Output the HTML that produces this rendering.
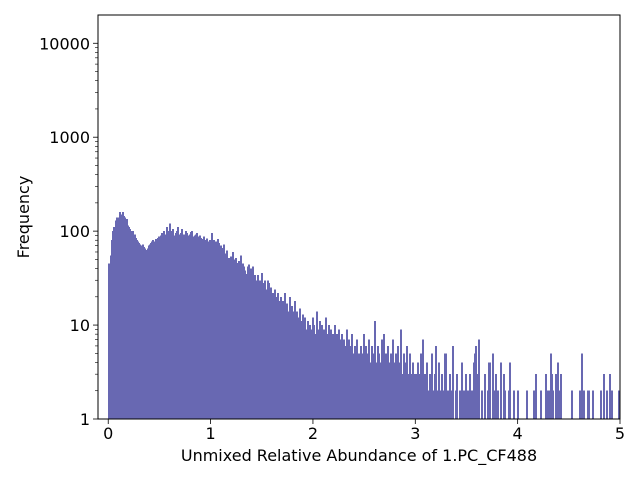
<!DOCTYPE html>
<html><head><meta charset="utf-8"><style>
body{margin:0;background:#fff}
svg{display:block;font-family:"DejaVu Sans","Liberation Sans",sans-serif}
</style></head><body>
<svg id="chart" width="640" height="480" viewBox="0 0 640 480" xmlns="http://www.w3.org/2000/svg">
<rect width="640" height="480" fill="#fff"/>
<g id="bars" shape-rendering="crispEdges"></g>
<g id="axes"></g>
<text x="359" y="461" font-size="16" text-anchor="middle">Unmixed Relative Abundance of 1.PC_CF488</text>
<text x="29" y="217" font-size="16" text-anchor="middle" transform="rotate(-90 29 217)">Frequency</text>
</svg>
<script>
const binStart = 0;
const binWidth = 0.01;
const counts = [
45,33,55,80,100,110,105,130,140,135,140,160,150,150,160,145,140,130,135,115,110,105,100,95,100,90,92,85,80,78,75,72,70,72,68,65,63,62,65,70,72,75,78,80,75,78,82,80,85,88,
85,90,95,85,100,88,92,110,95,100,120,95,100,105,90,88,95,100,110,92,90,95,105,88,92,100,95,90,85,92,98,100,88,85,90,92,95,85,88,90,85,82,80,88,75,80,84,78,76,80,
75,95,70,80,72,78,68,82,75,65,70,66,60,72,55,58,62,52,50,54,48,60,45,50,52,44,46,48,42,55,40,45,42,38,25,35,42,44,38,40,36,42,28,34,30,26,34,28,30,24,
36,28,26,30,22,24,30,28,20,25,22,18,24,20,16,22,18,14,20,16,18,12,22,15,17,14,10,20,12,16,14,11,18,10,14,12,9,15,11,8,13,10,12,7,9,11,8,10,6,9,
12,10,8,14,9,7,11,6,10,8,9,7,12,8,6,10,7,9,5,8,7,10,6,8,5,9,7,6,8,4,7,5,6,9,5,7,4,6,8,3,5,6,4,7,5,3,6,4,5,8,
4,6,3,5,7,2,4,6,3,5,11,4,3,6,5,2,4,7,3,8,4,5,3,6,2,4,5,3,7,1,4,5,2,6,3,4,9,3,5,2,4,6,1,3,5,2,3,4,1,3,
3,2,4,1,3,5,2,7,1,3,2,4,0,2,3,1,5,2,0,3,6,2,1,4,2,0,3,1,2,5,0,2,1,3,0,2,6,1,0,2,3,0,1,2,0,4,1,2,0,3,
0,2,1,3,0,2,1,4,5,6,3,2,7,0,1,2,0,0,3,1,0,2,4,1,0,5,2,0,3,1,2,0,0,4,1,0,3,2,0,0,1,2,4,0,0,1,2,0,0,1,
2,0,1,0,0,0,1,0,0,2,0,1,0,0,0,2,0,3,0,1,0,0,2,0,1,0,0,3,0,2,0,2,5,3,2,0,0,3,1,4,2,0,3,0,1,0,0,0,0,0,
0,0,0,2,0,0,0,0,1,0,2,0,5,0,2,1,0,0,2,2,0,0,1,2,0,0,0,0,0,0,1,2,0,0,3,0,0,2,0,1,3,0,2,0,0,0,0,0,1,2
];
const xTicks = [0,1,2,3,4,5];
const yTicks = [1,10,100,1000,10000];
const yTickLabels = ["1","10","100","1000","10000"];

const L=98,R=620,T=15,B=419;
const xMin=-0.1,xMax=5.0,yMin=1,yMax=20000;
function xs(v){return L+(v-xMin)/(xMax-xMin)*(R-L);}
function ys(v){return B-(Math.log10(v)-Math.log10(yMin))/(Math.log10(yMax)-Math.log10(yMin))*(B-T);}
const NS="http://www.w3.org/2000/svg";
const bars=document.getElementById('bars');
counts.forEach((c,i)=>{
  if(c<=1) return;
  const x0=Math.floor(xs(binStart+i*binWidth)), x1=Math.ceil(xs(binStart+(i+1)*binWidth));
  const r=document.createElementNS(NS,'rect');
  r.setAttribute('x',x0);r.setAttribute('width',Math.max(1,x1-x0));
  r.setAttribute('y',ys(c));r.setAttribute('height',B-ys(c));
  r.setAttribute('fill','#6868b2');
  
  
  bars.appendChild(r);
});
const ax=document.getElementById('axes');
function line(x1,y1,x2,y2,w){const l=document.createElementNS(NS,'line');l.setAttribute('x1',x1);l.setAttribute('y1',y1);l.setAttribute('x2',x2);l.setAttribute('y2',y2);l.setAttribute('stroke','#000');l.setAttribute('stroke-width',w||0.8);ax.appendChild(l);return l;}
function text(x,y,s,anchor){const t=document.createElementNS(NS,'text');t.setAttribute('x',x);t.setAttribute('y',y);t.setAttribute('font-size','16');t.setAttribute('text-anchor',anchor);t.textContent=s;ax.appendChild(t);return t;}
const frame=document.createElementNS(NS,'rect');
frame.setAttribute('x',L);frame.setAttribute('y',T);frame.setAttribute('width',R-L);frame.setAttribute('height',B-T);
frame.setAttribute('fill','none');frame.setAttribute('stroke','#000');frame.setAttribute('stroke-width','1');


ax.appendChild(frame);
xTicks.forEach(v=>{
  const x=xs(v);line(x,B,x,B+5);
  const t=text(x,B+20,String(v),'middle');
  
  
});
yTicks.forEach((v,i)=>{
  const y=ys(v);line(L-5,y,L,y);
  const t=text(L-8,y+6,yTickLabels[i],'end');
  
  
  for(let k=2;k<10;k++){const m=v*k;if(m<yMax){const yy=ys(m);line(L-3,yy,L,yy,0.6);}}
});
</script>
</body></html>
